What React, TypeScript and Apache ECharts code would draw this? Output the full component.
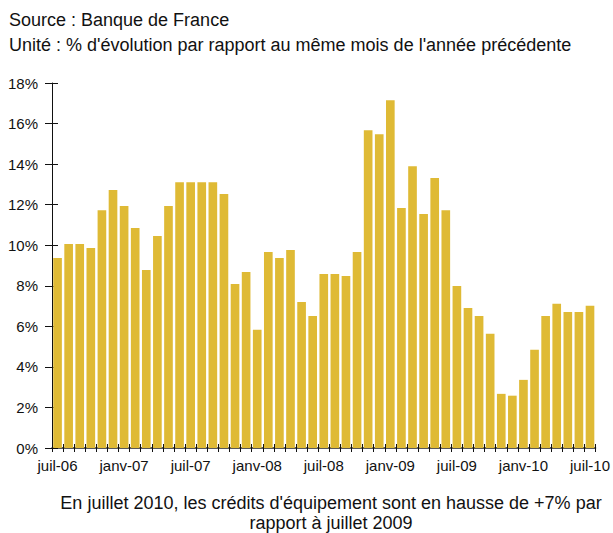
import React, { useEffect, useRef } from "react";
import * as echarts from "echarts";

const months = [
  "juil-06","août-06","sept-06","oct-06","nov-06","déc-06",
  "janv-07","févr-07","mars-07","avr-07","mai-07","juin-07",
  "juil-07","août-07","sept-07","oct-07","nov-07","déc-07",
  "janv-08","févr-08","mars-08","avr-08","mai-08","juin-08",
  "juil-08","août-08","sept-08","oct-08","nov-08","déc-08",
  "janv-09","févr-09","mars-09","avr-09","mai-09","juin-09",
  "juil-09","août-09","sept-09","oct-09","nov-09","déc-09",
  "janv-10","févr-10","mars-10","avr-10","mai-10","juin-10",
  "juil-10",
];

const growth = [
  9.37, 10.06, 10.06, 9.86, 11.73, 12.72,
  11.93, 10.85, 8.78, 10.45, 11.93, 13.11,
  13.11, 13.11, 13.11, 12.52, 8.09, 8.68,
  5.83, 9.67, 9.37, 9.76, 7.2, 6.51,
  8.58, 8.58, 8.48, 9.67, 15.67, 15.47,
  17.15, 11.83, 13.9, 11.54, 13.31, 11.73,
  7.99, 6.91, 6.51, 5.63, 2.67, 2.58,
  3.36, 4.84, 6.51, 7.11, 6.71, 6.71,
  7.01,
];

const yMin = 0;
const yMax = 18;
const yStep = 2;

const sourceText = "Source : Banque de France";
const unitText = "Unité : % d'évolution par rapport au même mois de l'année précédente";
const noteLine1 = "En juillet 2010, les crédits d'équipement sont en hausse de +7% par";
const noteLine2 = "rapport à juillet 2009";

const FONT = "'Liberation Sans', Arial, sans-serif";

export default function App() {
  const ref = useRef<HTMLDivElement>(null);
  useEffect(() => {
    if (!ref.current) return;
    const chart = echarts.init(ref.current, null, { renderer: "svg" });
    const grid = { left: 52, right: 16, top: 83, bottom: 85 };
    chart.setOption({
      animation: false,
      backgroundColor: "#ffffff",
      textStyle: { fontFamily: FONT },
      grid,
      xAxis: [
        {
          type: "category",
          data: months,
          boundaryGap: true,
          axisLine: { lineStyle: { color: "#222", width: 1.5 } },
          axisTick: { show: true, interval: 0, length: 4, lineStyle: { color: "#111" } },
          axisLabel: {
            interval: 5,
            color: "#111",
            fontSize: 15,
            fontFamily: FONT,
            margin: 10,
          },
        },
        {
          type: "category",
          data: months,
          position: "bottom",
          boundaryGap: true,
          axisLine: { show: false },
          axisTick: { show: true, inside: true, interval: 0, length: 4, lineStyle: { color: "#111" } },
          axisLabel: { show: false },
        },
      ],
      yAxis: [
        {
          type: "value",
          min: yMin,
          max: yMax,
          interval: yStep,
          axisLine: { show: true, lineStyle: { color: "#111" } },
          axisTick: { show: true, length: 7, lineStyle: { color: "#111" } },
          splitLine: { show: false },
          axisLabel: {
            formatter: "{value}%",
            color: "#111",
            fontSize: 15,
            fontFamily: FONT,
            margin: 14,
          },
        },
        {
          type: "value",
          min: yMin,
          max: yMax,
          interval: yStep,
          position: "left",
          axisLine: { show: false },
          axisTick: { show: true, inside: true, length: 6, lineStyle: { color: "#111" } },
          splitLine: { show: false },
          axisLabel: { show: false },
        },
      ],
      series: [
        {
          type: "bar",
          data: growth,
          xAxisIndex: 0,
          yAxisIndex: 0,
          barCategoryGap: "22%",
          itemStyle: { color: "#DFBA35" },
          z: 1,
        },
      ],
      graphic: [
        {
          type: "text",
          x: 9,
          y: 11,
          style: { text: sourceText, fill: "#111", fontSize: 18, fontFamily: FONT, verticalAlign: "top" },
        },
        {
          type: "text",
          x: 9,
          y: 36,
          style: { text: unitText, fill: "#111", fontSize: 18, fontFamily: FONT, verticalAlign: "top" },
        },
        {
          type: "text",
          x: 331,
          y: 494,
          style: { text: noteLine1, fill: "#111", fontSize: 18, fontFamily: FONT, align: "center", verticalAlign: "top" },
        },
        {
          type: "text",
          x: 331,
          y: 514,
          style: { text: noteLine2, fill: "#111", fontSize: 18, fontFamily: FONT, align: "center", verticalAlign: "top" },
        },
      ],
    });
    return () => chart.dispose();
  }, []);
  return <div ref={ref} style={{ width: 613, height: 533, position: "absolute", left: 0, top: 0 }} />;
}
